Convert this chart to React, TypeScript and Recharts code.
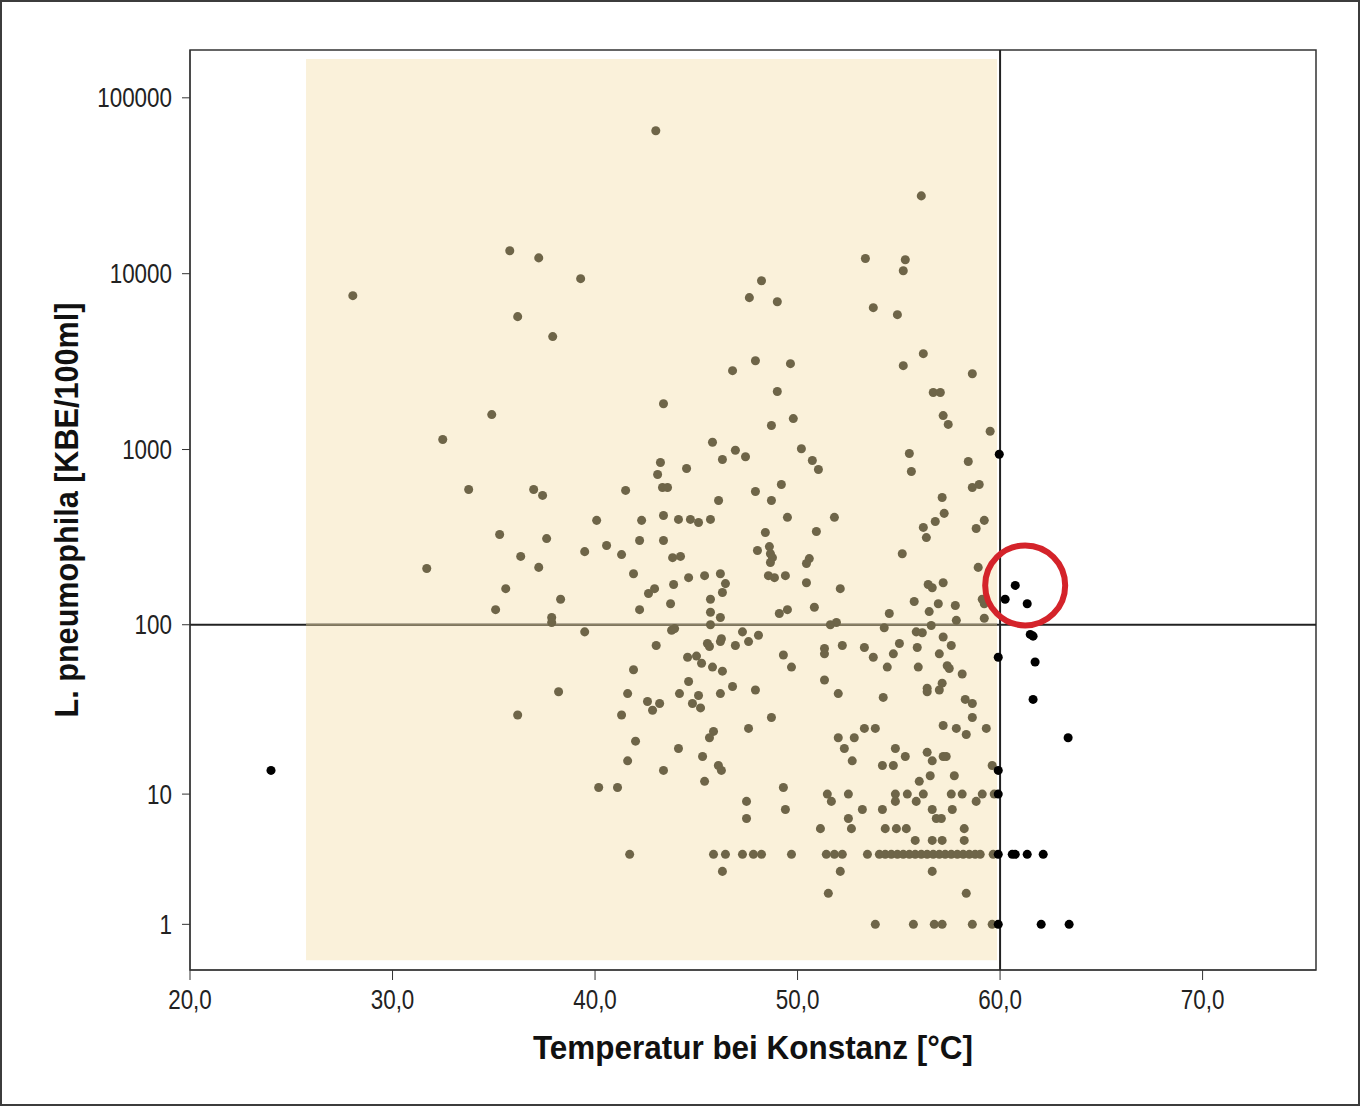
import React from 'react';
import {
  ReferenceArea,
  ReferenceDot,
  ReferenceLine,
  Scatter,
  ScatterChart,
  XAxis,
  YAxis,
  Label,
} from 'recharts';

// [temperature °C, L. pneumophila KBE/100ml]
const countsAbove900: [number, number][] = [
  [28.04, 7500], [43.0, 65000], [56.11, 27700], [35.79, 13500], [37.22, 12300],
  [39.29, 9370], [36.18, 5700], [37.91, 4390], [53.35, 12200], [55.32, 12000],
  [55.22, 10400], [53.74, 6410], [54.93, 5850], [48.22, 9120], [47.62, 7310],
  [49.0, 6930], [56.21, 3510], [55.22, 3000], [47.92, 3200], [46.79, 2810],
  [49.65, 3080], [58.63, 2700], [56.7, 2110], [57.05, 2110], [49.0, 2140],
  [57.19, 1560], [57.44, 1390], [49.79, 1500], [48.71, 1370], [59.51, 1270],
  [43.38, 1820], [34.9, 1580], [32.48, 1140], [45.8, 1100], [46.93, 990],
  [50.19, 1010], [55.52, 950], [59.96, 940], [47.43, 910],
];

const counts100to900: [number, number][] = [
  [46.29, 877], [43.23, 844], [44.52, 780], [43.09, 721], [43.33, 608],
  [43.58, 608], [36.97, 592], [37.41, 548], [41.51, 585], [46.1, 513],
  [47.92, 577], [49.2, 632], [48.71, 513], [40.08, 395], [42.3, 395],
  [43.38, 421], [44.12, 400], [44.71, 400], [45.11, 384], [45.7, 400],
  [49.5, 411], [37.61, 311], [40.57, 284], [39.49, 262], [41.31, 252],
  [42.2, 303], [43.38, 303], [48.41, 337], [48.02, 266], [48.61, 280],
  [48.66, 255], [48.76, 242], [48.66, 227], [43.83, 242], [44.22, 246],
  [37.22, 213], [41.9, 196], [43.88, 170], [44.62, 186], [45.41, 191],
  [46.19, 196], [46.44, 172], [46.29, 153], [42.64, 151], [42.94, 161],
  [48.56, 191], [48.86, 186], [49.4, 191], [38.3, 140], [43.73, 132],
  [42.2, 122], [45.7, 140], [45.7, 118], [46.19, 110], [49.1, 116],
  [49.5, 122], [37.86, 110], [37.86, 103], [45.7, 100],
  [33.76, 592], [35.29, 328], [36.33, 246], [31.69, 210], [35.59, 161], [35.09, 122],
  [50.73, 866], [51.03, 770], [55.62, 750], [58.43, 855], [58.63, 608],
  [58.97, 632], [57.14, 533], [57.24, 433], [56.8, 389], [56.21, 360],
  [56.36, 315], [59.22, 395], [58.82, 355], [51.82, 411], [50.93, 341],
  [55.17, 255], [50.58, 239], [50.44, 224], [58.92, 213], [50.44, 174],
  [52.11, 161], [56.45, 170], [56.65, 163], [57.19, 174], [55.76, 136],
  [56.95, 132], [57.79, 129], [59.12, 140], [59.22, 132], [50.83, 126],
  [54.53, 116], [56.5, 119], [57.84, 106], [59.22, 109], [51.92, 103], [51.62, 100],
  [60.75, 168], [60.25, 140], [61.34, 132],
];

const counts10to100: [number, number][] = [
  [39.49, 91], [43.78, 93], [43.93, 95], [47.28, 91], [48.07, 87], [46.24, 83],
  [54.28, 96], [55.86, 91], [56.16, 90], [56.6, 99], [57.19, 85], [61.49, 88], [61.63, 86],
  [43.02, 76], [45.55, 78], [45.65, 75], [46.19, 80], [46.93, 76], [47.58, 80],
  [49.3, 67], [49.7, 57], [41.9, 55], [44.57, 65], [45.01, 66], [45.26, 60],
  [45.8, 57], [46.29, 54], [44.62, 47], [38.2, 41], [41.61, 40], [44.17, 40],
  [45.11, 39], [46.19, 40], [46.79, 44], [47.92, 42], [42.59, 36], [43.19, 35],
  [42.84, 32], [44.81, 35], [45.21, 33], [41.31, 30], [48.71, 29], [47.58, 25],
  [45.85, 24], [45.65, 22], [42.0, 21], [44.12, 19], [45.31, 17], [41.61, 16],
  [46.09, 15], [46.24, 14], [43.38, 14], [45.41, 12], [40.18, 11], [41.11, 11],
  [49.3, 11], [36.18, 30],
  [51.33, 73], [51.33, 68], [52.21, 76], [53.3, 74], [53.74, 65], [54.73, 68],
  [55.03, 78], [55.91, 74], [57.59, 76], [57.0, 68], [59.91, 65], [54.43, 57],
  [55.96, 57], [57.39, 58], [57.49, 56], [58.13, 52], [51.33, 48], [52.01, 40],
  [54.23, 38], [56.4, 43], [56.4, 41], [57.14, 46], [57.0, 42], [58.28, 37],
  [58.63, 35], [58.63, 29], [61.73, 61], [61.63, 37], [63.36, 22], [53.3, 25],
  [53.84, 25], [57.19, 26], [57.84, 25], [58.33, 23], [59.32, 25], [52.01, 22],
  [52.8, 22], [52.31, 19], [54.83, 19], [55.32, 17], [56.4, 18], [56.65, 16],
  [57.19, 17], [57.34, 17], [52.7, 16], [54.19, 15], [54.73, 15], [59.61, 15],
  [59.91, 14], [56.55, 13], [57.74, 13], [56.01, 12], [24.0, 14],
  [51.47, 10], [52.51, 10], [54.83, 10], [55.42, 10], [56.21, 10], [57.59, 10],
  [58.13, 10], [59.12, 10], [59.71, 10], [59.91, 10],
];

const countsBelow10: [number, number][] = [
  [47.48, 9], [47.48, 7], [49.4, 8], [51.67, 9], [54.83, 9], [55.86, 9], [58.82, 9],
  [53.2, 8], [54.19, 8], [56.65, 8], [57.64, 8], [52.51, 7], [56.85, 7], [57.1, 7],
  [52.66, 6], [51.13, 6], [54.33, 6], [54.88, 6], [55.37, 6], [58.23, 6],
  [58.23, 5], [55.81, 5], [56.65, 5], [57.14, 5],
  [46.29, 3], [52.11, 3], [56.65, 3], [51.52, 2], [58.33, 2],
];

// samples that sit on the 4 and 1 KBE rows
const tempsAt4 = [
  41.71, 45.85, 46.44, 47.28, 47.82, 48.22, 49.7, 51.42, 51.82, 52.21, 53.45,
  54.04, 54.33, 54.63, 54.93, 55.22, 55.52, 55.81, 56.11, 56.4, 56.7, 57.0,
  57.29, 57.59, 57.89, 58.18, 58.48, 58.77, 59.02, 59.66, 59.91, 60.6, 60.75,
  61.34, 62.13,
];
const tempsAt1 = [53.84, 55.72, 56.75, 57.14, 58.63, 59.61, 59.91, 62.03, 63.41];

const xTicks = [20, 30, 40, 50, 60, 70];
const yTicks = [1, 10, 100, 1000, 10000, 100000];

// temperature window that is highlighted
const rangeFrom = 25.73;
const rangeTo = 59.85;

const allPoints = [
  ...countsAbove900,
  ...counts100to900,
  ...counts10to100,
  ...countsBelow10,
  ...tempsAt4.map((t) => [t, 4] as [number, number]),
  ...tempsAt1.map((t) => [t, 1] as [number, number]),
].map(([t, kbe]) => ({ t, kbe }));

const insideData = allPoints.filter((p) => p.t >= rangeFrom && p.t < rangeTo);
const outsideData = allPoints.filter((p) => p.t < rangeFrom || p.t >= rangeTo);

const OLIVE = '#6e6548';
const SHADE = '#faf1da';
const FONT = 'Arial, "Liberation Sans", sans-serif';
const SQUEEZE = 0.83; // the original uses a narrow face

const narrow = (x: number, y: number) =>
  `translate(${x} ${y}) scale(${SQUEEZE} 1) translate(${-x} ${-y})`;

const XTick = ({ x, y, payload }: any) => (
  <text
    x={x}
    y={y}
    dy="0.71em"
    textAnchor="middle"
    transform={narrow(x, y)}
    fontFamily={FONT}
    fontSize={27}
    fill="#222"
  >
    {Number(payload.value).toFixed(1).replace('.', ',')}
  </text>
);

const YTick = ({ x, y, payload }: any) => (
  <text
    x={x}
    y={y}
    dy="0.355em"
    textAnchor="end"
    transform={narrow(x, y)}
    fontFamily={FONT}
    fontSize={27}
    fill="#222"
  >
    {String(payload.value)}
  </text>
);

const XTitle = ({ viewBox }: any) => (
  <text
    x={viewBox.x + viewBox.width / 2}
    y={viewBox.y + 89}
    textAnchor="middle"
    textLength={440}
    lengthAdjust="spacingAndGlyphs"
    fontFamily={FONT}
    fontWeight="bold"
    fontSize={34}
    fill="#111"
  >
    Temperatur bei Konstanz [°C]
  </text>
);

const YTitle = ({ viewBox }: any) => {
  const cy = viewBox.y + viewBox.height / 2;
  return (
    <text
      x={78}
      y={cy}
      transform={`rotate(-90, 78, ${cy})`}
      textAnchor="middle"
      textLength={415}
      lengthAdjust="spacingAndGlyphs"
      fontFamily={FONT}
      fontWeight="bold"
      fontSize={34}
      fill="#111"
    >
      L. pneumophila [KBE/100ml]
    </text>
  );
};

export default function App() {
  return (
    <div style={{ position: 'relative', width: 1360, height: 1106, background: '#fff' }}>
      <style>{'body{margin:0}'}</style>
      <ScatterChart
        width={1360}
        height={1106}
        margin={{ top: 50, right: 44, bottom: 36, left: 0 }}
      >
        <XAxis
          type="number"
          dataKey="t"
          domain={[20, 75.6]}
          ticks={xTicks}
          allowDataOverflow
          height={100}
          tickSize={10}
          tickMargin={10}
          stroke="#333"
          tick={(p: any) => <XTick {...p} />}
        >
          <Label content={<XTitle />} />
        </XAxis>
        <YAxis
          type="number"
          dataKey="kbe"
          scale="symlog"
          domain={[0.1, 187000]}
          ticks={yTicks}
          allowDataOverflow
          width={190}
          tickSize={8}
          tickMargin={10}
          stroke="#333"
          tick={(p: any) => <YTick {...p} />}
        >
          <Label content={<YTitle />} />
        </YAxis>
        <ReferenceArea
          x1={rangeFrom}
          x2={rangeTo}
          y1={0.25}
          y2={166000}
          fill={SHADE}
          fillOpacity={1}
          stroke="none"
        />
        <ReferenceLine y={100} stroke="#222" strokeWidth={2} />
        <ReferenceLine
          segment={[
            { x: rangeFrom, y: 100 },
            { x: rangeTo, y: 100 },
          ]}
          stroke="#8a8165"
          strokeWidth={2}
        />
        <ReferenceLine x={60} stroke="#222" strokeWidth={2} />
        <Scatter data={insideData} fill={OLIVE} isAnimationActive={false} />
        <Scatter data={outsideData} fill="#000" isAnimationActive={false} />
        <ReferenceArea
          x1={20}
          x2={75.6}
          y1={0.1}
          y2={187000}
          fill="none"
          stroke="#333"
          strokeWidth={1.5}
        />
        <ReferenceDot
          x={61.24}
          y={168}
          r={40}
          fill="none"
          stroke="#d4232a"
          strokeWidth={6}
        />
      </ScatterChart>
      <div
        style={{
          position: 'absolute',
          inset: 0,
          border: '2px solid #3c3c3c',
          pointerEvents: 'none',
        }}
      />
    </div>
  );
}
